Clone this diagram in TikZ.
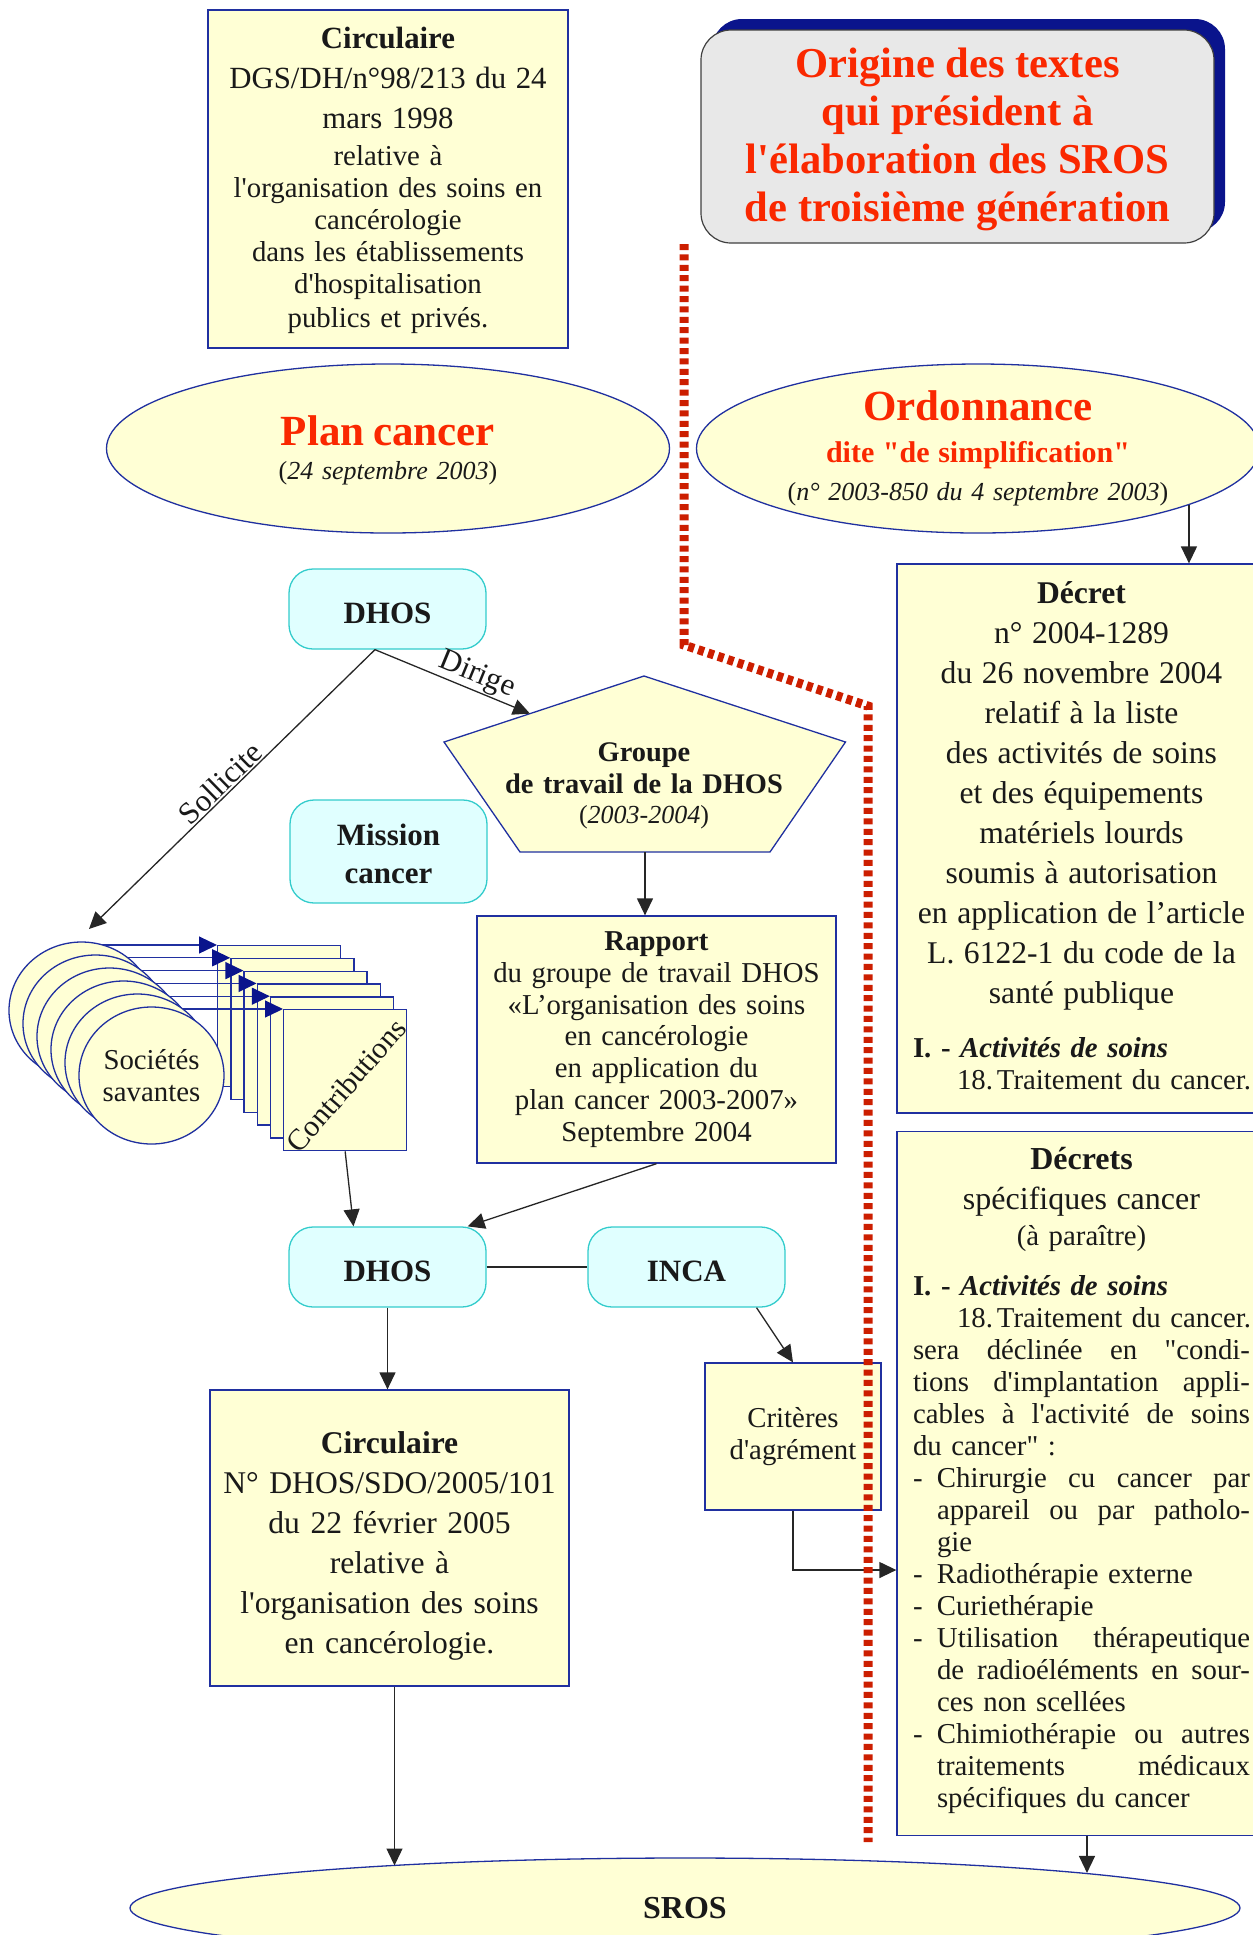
\documentclass[tikz,border=0pt]{standalone}
\usepackage{fontspec}
\setmainfont{Liberation Serif}
\usetikzlibrary{arrows.meta,shapes.geometric,shadows,calc}

\definecolor{docfill}{RGB}{255,255,213}
\definecolor{docline}{RGB}{32,48,160}
\definecolor{orgfill}{RGB}{224,255,255}
\definecolor{orgline}{RGB}{51,204,204}
\definecolor{titlered}{RGB}{250,40,0}
\definecolor{titlegray}{RGB}{232,232,232}
\definecolor{shadowblue}{RGB}{10,20,140}
\definecolor{limitred}{RGB}{204,30,0}

\newcommand\apos{\textquotesingle}
\newcommand\dq{\textquotedbl}
\newcommand\fbody{\fontsize{14.4}{16}\selectfont}
\newcommand\fdoc{\fontsize{15.8}{20}\selectfont}
\newcommand\flab{\fontsize{15.5}{18}\selectfont}

\newlength\decw \setlength\decw{168.5pt}
\newlength\hangw \setlength\hangw{156.5pt}
\newcommand\jline[1]{\noindent\makebox[\decw][s]{\spaceskip=0.25em plus 1fil\relax #1}\par}
\newcommand\rline[1]{\noindent#1\par}
\newcommand\jitem[1]{\noindent\makebox[12pt][l]{-}\makebox[\hangw][s]{\spaceskip=0.25em plus 1fil\relax #1}\par}
\newcommand\ritem[1]{\noindent\makebox[12pt][l]{-}#1\par}
\newcommand\jhang[1]{\noindent\hspace*{12pt}\makebox[\hangw][s]{\spaceskip=0.25em plus 1fil\relax #1}\par}
\newcommand\rhang[1]{\noindent\hspace*{12pt}#1\par}
\newcommand\traitement{\noindent\hspace*{22pt}\mbox{18.\hspace{2pt}Traitement du cancer.}\par}

\tikzset{
  doc/.style={draw=docline, fill=docfill, line width=0.65pt, inner sep=4pt, text=black!90},
  org/.style={draw=orgline, fill=orgfill, line width=0.65pt, rounded corners=12pt,
    minimum width=98.5pt, minimum height=40pt, align=center,
    font=\bfseries\fontsize{15.5}{19}\selectfont, text=black!90},
  orgone/.style={org, text height=14pt, text depth=0pt},
  conn/.style={draw=black!85, line width=0.65pt, -{Triangle[length=8.5pt,width=8pt]}},
  feed/.style={draw=docline, line width=0.65pt, -{Triangle[length=9pt,width=8.5pt,color=shadowblue]}},
  link/.style={draw=black!85, line width=0.65pt},
  limit/.style={draw=limitred, line width=4.5pt, dash pattern=on 3pt off 2.2pt},
  lab/.style={font=\flab, sloped, above, inner sep=0.5pt, text=black!90},
}

\begin{document}
\begin{tikzpicture}[x=0.5pt,y=-0.5pt]
\path[use as bounding box] (0,0) rectangle (1253,1935);
\clip (0,0) rectangle (1253,1935);

% titre
\node[draw=black!75, fill=titlegray, line width=0.6pt, rounded corners=15pt,
  drop shadow={shadow xshift=5.5pt, shadow yshift=5.5pt, fill=shadowblue, opacity=1},
  minimum width=256.5pt, minimum height=106.5pt, align=center, text=titlered,
  font=\bfseries\fontsize{21.3}{24}\selectfont] (titre) at (957.5,136.5)
  {Origine des textes\\qui président à\\l\apos élaboration des SROS\\de troisième génération\vspace{-3pt}};

% circulaire 1998
\node[doc, minimum width=180pt, minimum height=169pt, text width=172pt, align=center, font=\fbody] (circA) at (388,179)
  {{\fontsize{15.4}{16}\selectfont\textbf{Circulaire}\\[4pt] DGS/DH/n°98/213 du 24\\[4pt] mars 1998}\\[2.5pt]
   relative à\\ l\apos organisation des soins en\\ cancérologie\\ dans les établissements\\
   d\apos hospitalisation\\[1pt] publics et privés.\vspace{-1pt}};

% plan cancer, ordonnance
\node[doc, ellipse, inner sep=0pt, minimum width=281.5pt, minimum height=84.5pt, text width=195pt, align=center,
  font=\fontsize{13}{16}\selectfont] (plan) at (388,448.5)
  {{\color{titlered}\bfseries\fontsize{21.5}{24}\selectfont Plan cancer}\\[1pt] (\textit{24 septembre 2003})\vspace{-2pt}};
\node[doc, ellipse, inner sep=0pt, minimum width=281.5pt, minimum height=84.5pt, text width=195pt, align=center,
  font=\fontsize{13}{16}\selectfont] (ordo) at (978,448.5)
  {{\color{titlered}\bfseries\fontsize{21.5}{24}\selectfont Ordonnance}\\[5pt]
   {\color{titlered}\bfseries\fontsize{15}{16}\selectfont dite \dq de simplification\dq}\\[3pt]
   (\textit{n° 2003-850 du 4 septembre 2003})};

% DHOS, mission
\node[orgone] (dhosA) at (387.5,609) {DHOS};
\node[org, minimum height=51.5pt] (mission) at (388.5,851.5) {Mission\\cancer\vspace{-2pt}};

% groupe de travail
\coordinate (pt) at (644,676);
\coordinate (pr) at (845.5,742);
\coordinate (pbr) at (770,852);
\coordinate (pbl) at (520,852);
\coordinate (pl) at (444,742);
\path[doc] (pt) -- (pr) -- (pbr) -- (pbl) -- (pl) -- cycle;
\node[align=center, text width=150pt, text=black!90, font=\bfseries\fontsize{14.2}{16}\selectfont] (groupe) at (644,786)
  {Groupe\\ de travail de la DHOS\\[-1pt] {\mdseries\fontsize{13}{16}\selectfont(\textit{2003-2004})}};

% rapport
\node[doc, minimum width=179.5pt, minimum height=123.5pt, text width=171.5pt, align=center,
  font=\fontsize{14.4}{15.9}\selectfont] (rapport) at (656.5,1039.5)
  {\textbf{Rapport}\\ du groupe de travail DHOS\\ «L’organisation des soins\\ en cancérologie\\
   en application du\\ plan cancer 2003-2007»\\ Septembre 2004};

% societes savantes et contributions
\foreach \k in {0,...,5}
  \node[doc, minimum width=61.5pt, minimum height=70.5pt, anchor=north west] (contrib\k) at ({217+13.2*\k},{945+12.8*\k}) {};
\foreach \k in {0,...,5}
  \coordinate (socc\k) at ({81.5+14*\k},{1010.5+13*\k});
\foreach \k in {0,...,5}
  \draw[feed] (socc\k |- contrib\k.north west) -- (contrib\k.north west);
\foreach \k in {0,...,4}
  \node[doc, ellipse, minimum width=72.5pt, minimum height=68.5pt] (soc\k) at (socc\k) {};
\node[doc, ellipse, inner sep=0pt, minimum width=72.5pt, minimum height=68.5pt, align=center, font=\fbody] (soc5) at (socc5)
  {Sociétés\\savantes};
\node[rotate=49, text=black!90, font=\fontsize{15}{16}\selectfont] (contribtxt) at ($(contrib5.center)+(1,5)$) {Contributions};

% DHOS, INCA
\node[orgone] (dhosB) at (387.5,1267) {DHOS};
\node[orgone] (inca) at (686.5,1267) {INCA};

% criteres
\node[doc, minimum width=88pt, minimum height=73.5pt, align=center, font=\fbody] (critere) at (793,1436.5)
  {Critères\\d\apos agrément};

% circulaire 2005
\node[doc, minimum width=179.5pt, minimum height=148pt, text width=171.5pt, align=center, font=\fdoc] (circB) at (389.5,1538)
  {\textbf{Circulaire}\\ N° DHOS/SDO/2005/101\\ du 22 février 2005\\ relative à\\ l\apos organisation des soins\\ en cancérologie.\vspace{-8pt}};

% decret 2004
\node[doc, minimum height=274.5pt, text width=168.5pt, inner sep=8pt, align=left, font=\fbody] (decret) at (1081.5,838.5)
  {{\centering\fdoc\textbf{Décret}\\ n° 2004-1289\\ du 26 novembre 2004\\ relatif à la liste\\ des activités de soins\\
    et des équipements\\ matériels lourds\\ soumis à autorisation\\ en application de l’article\\
    L. 6122-1 du code de la\\ santé publique\par}\vspace{11pt}
   \noindent\textbf{I. - \textit{Activités de soins}}\par
   \traitement\vspace{3pt}};

% decrets cancer
\node[doc, minimum height=350.5pt, text width=168.5pt, inner sep=8pt, align=left, font=\fbody] (decrets) at (1081.5,1483.5)
  {{\centering{\fontsize{16}{20}\selectfont\textbf{Décrets}\\[4pt] spécifiques cancer}\\[2pt] (à paraître)\par}\vspace{9pt}
   \noindent\textbf{I. - \textit{Activités de soins}}\par
   \traitement
   \jline{sera déclinée en \dq condi-}
   \jline{tions d\apos implantation appli-}
   \jline{cables à l\apos activité de soins}
   \rline{du cancer\dq{} :}
   \jitem{Chirurgie cu cancer par}
   \jhang{appareil ou par patholo-}
   \rhang{gie}
   \ritem{Radiothérapie externe}
   \ritem{Curiethérapie}
   \jitem{Utilisation thérapeutique}
   \jhang{de radioéléments en sour-}
   \rhang{ces non scellées}
   \jitem{Chimiothérapie ou autres}
   \jhang{traitements médicaux}
   \rhang{spécifiques du cancer}\vspace{3pt}};

% SROS
\node[doc, ellipse, minimum width=555pt, minimum height=50pt, font=\bfseries\fontsize{16}{18}\selectfont] (sros) at (685,1908) {SROS};

% liens
\coordinate (dhosfoot) at ([xshift=-6.25pt]dhosA.south);
\coordinate (sollend) at (89,929);
\coordinate (grpin) at ($(pl)!0.43!(pt)$);
\coordinate (pbm) at ($(pbl)!0.5!(pbr)$);
\coordinate (circBfoot) at ([xshift=2.5pt]circB.south);
\coordinate (decretsfoot) at ([xshift=2.75pt]decrets.south);
\draw[conn] (dhosfoot) -- node[lab, pos=0.51] {Sollicite} (sollend);
\draw[conn] (dhosfoot) -- node[lab, pos=0.62] {Dirige} (grpin);
\draw[conn] (pbm) -- (pbm |- rapport.north);
\draw[conn] (contrib5.south) -- ([xshift=-17pt]dhosB.north);
\draw[conn] (rapport.south) -- ([xshift=-9.5pt]dhosB.north east);
\draw[link] (dhosB.east) -- (inca.west);
\draw[conn] ([xshift=35pt]inca.south) -- (critere.north);
\draw[conn] (critere.south) |- ($(decrets.west)+(0,86.5)$);
\draw[conn] (dhosB.south) -- (dhosB.south |- circB.north);
\draw[conn] (circBfoot) -- (circBfoot |- sros.172);
\draw[conn] (decretsfoot) -- (decretsfoot |- sros.5);
\draw[conn] (ordo.345) -- (ordo.345 |- decret.north);

% limite
\draw[limit] (684,244) -- (684,645) -- (868,706) -- (868,1842);
\end{tikzpicture}
\end{document}
